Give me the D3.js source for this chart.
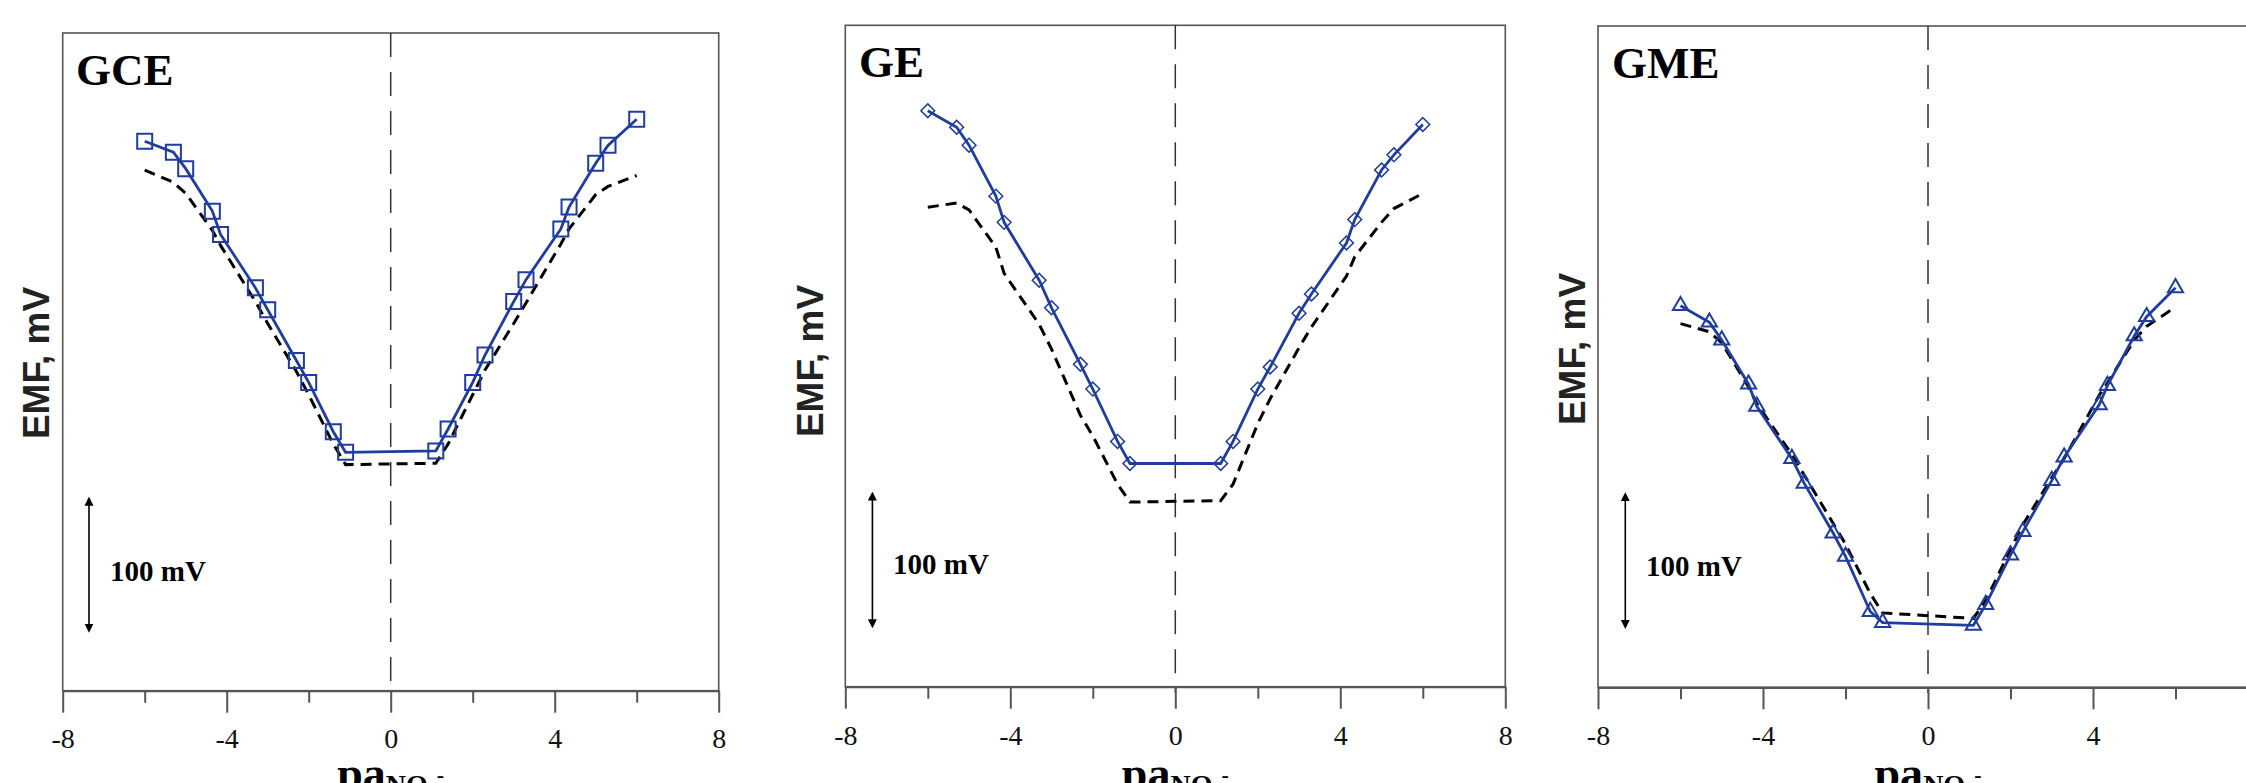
<!DOCTYPE html>
<html>
<head>
<meta charset="utf-8">
<script src="https://cdn.jsdelivr.net/npm/d3@7"></script>
<style>
  html, body { margin: 0; padding: 0; background: #fff; overflow: hidden; }
  svg { display: block; }
</style>
</head>
<body>
<svg width="2246" height="783"></svg>
<script>
// pa(NO3-) values of the measured points (same for the three electrodes)
const paValues = [-6, -5.3, -5, -4.35, -4.15, -3.3, -3, -2.3, -2, -1.4, -1.1,
                  1.1, 1.4, 2, 2.3, 3, 3.3, 4.15, 4.35, 5, 5.3, 6];

// EMF, mV (relative)
const gceMeasured = [401, 393, 381, 350, 333, 294, 278, 241, 225, 189, 174,
                     175, 191, 225, 245, 284, 300, 337, 353, 385, 398, 417];
const gceTheory   = [380, 371, 363, 336, 325, 284, 268, 233, 216, 180, 165,
                     166, 180, 216, 234, 268, 283, 326, 337, 362, 368, 376];

const geMeasured  = [418, 406, 393, 356, 337, 295, 275, 234, 216, 178, 162,
                     162, 178, 216, 232, 271, 285, 322, 339, 375, 386, 408];
const geTheory    = [348, 351, 346, 319, 300, 263, 245, 197, 182, 147, 134,
                     135, 147, 191, 209, 246, 261, 298, 312, 337, 347, 358];

const gmeMeasured = [277, 265, 252, 220, 204, 166, 148, 112, 95, 55, 47,
                     45, 60, 96, 113, 150, 167, 205, 219, 255, 269, 290];
const gmeTheory   = [264, 258, 250, 218, 206, 169, 154, 119, 104, 68, 54,
                     50, 63, 100, 118, 152, 166, 212, 221, 252, 262, 276];

const majorTicks = [-8, -4, 0, 4, 8];
const minorTicks = [-6, -2, 2, 6];
const scaleBar = [42, 142]; // 100 mV

const blue = "#1f3d9e";

const panels = [
  { name: "GCE", measured: gceMeasured, theory: gceTheory, marker: "square",
    l: 62.7, r: 718.7, t: 33, b: 690.7, title: [76, 85], yLab: [49, 363],
    barText: [110, 581], barX: 89, tickY: 748 },
  { name: "GE", measured: geMeasured, theory: geTheory, marker: "diamond",
    l: 845.3, r: 1505.3, t: 25.3, b: 686.7, title: [859, 77], yLab: [823, 361],
    barText: [893, 574], barX: 872.4, tickY: 745 },
  { name: "GME", measured: gmeMeasured, theory: gmeTheory, marker: "triangle",
    l: 1598, r: 2258, t: 26, b: 687.3, title: [1612, 78], yLab: [1585, 349],
    barText: [1646, 576], barX: 1625.3, tickY: 745 }
];

const svg = d3.select("svg");

const defs = svg.append("defs");
defs.append("marker")
  .attr("id", "head")
  .attr("viewBox", "0 0 10 10")
  .attr("refX", 5).attr("refY", 5)
  .attr("markerWidth", 9).attr("markerHeight", 10)
  .attr("markerUnits", "userSpaceOnUse")
  .attr("orient", "auto-start-reverse")
  .append("path")
  .attr("d", "M0,0 L10,5 L0,10 Z")
  .attr("fill", "#000");

panels.forEach(p => {
  const x = d3.scaleLinear().domain([-8, 8]).range([p.l, p.r]);
  const y = d3.scaleLinear().domain([0, 480]).range([p.b, p.t]);
  const g = svg.append("g");

  // frame
  g.append("rect")
    .attr("x", p.l).attr("y", p.t)
    .attr("width", p.r - p.l).attr("height", p.b - p.t)
    .attr("fill", "none")
    .attr("stroke", "#555").attr("stroke-width", 1.6);

  // x = 0 guide
  g.append("line")
    .attr("x1", x(0)).attr("x2", x(0))
    .attr("y1", p.t).attr("y2", p.b + 6)
    .attr("stroke", "#333").attr("stroke-width", 1.5)
    .attr("stroke-dasharray", "24,15");

  // x axis
  const major = g.append("g")
    .attr("transform", `translate(0,${p.b})`)
    .call(d3.axisBottom(x).tickValues(majorTicks).tickSize(22).tickSizeOuter(0)
      .tickFormat(d => String(d)));
  major.select(".domain").attr("stroke", "#555").attr("stroke-width", 2.2);
  major.selectAll(".tick line").attr("stroke", "#555").attr("stroke-width", 2);
  major.selectAll(".tick text")
    .attr("y", p.tickY - p.b).attr("dy", 0)
    .attr("fill", "#111")
    .style("font-family", "'Liberation Serif', 'Times New Roman', serif")
    .style("font-size", "28px");

  const minor = g.append("g")
    .attr("transform", `translate(0,${p.b})`)
    .call(d3.axisBottom(x).tickValues(minorTicks).tickSize(12).tickSizeOuter(0)
      .tickFormat(""));
  minor.select(".domain").remove();
  minor.selectAll(".tick line").attr("stroke", "#555").attr("stroke-width", 2);

  // theoretical curve
  const line = d3.line().x((d, i) => x(paValues[i])).y(d => y(d));
  g.append("path")
    .datum(p.theory)
    .attr("d", line)
    .attr("fill", "none")
    .attr("stroke", "#000").attr("stroke-width", 3)
    .attr("stroke-dasharray", "11,7");

  // measured curve
  g.append("path")
    .datum(p.measured)
    .attr("d", line)
    .attr("fill", "none")
    .attr("stroke", blue).attr("stroke-width", 2.8);

  let sym, rot = 0, sw = 2;
  if (p.marker === "square") sym = d3.symbol().type(d3.symbolSquare).size(225);
  else if (p.marker === "diamond") { sym = d3.symbol().type(d3.symbolSquare).size(95); rot = 45; sw = 1.5; }
  else sym = d3.symbol().type(d3.symbolTriangle).size(100);

  g.selectAll(".pt")
    .data(p.measured)
    .join("path")
    .attr("class", "pt")
    .attr("d", sym)
    .attr("transform", (d, i) => `translate(${x(paValues[i])},${y(d)}) rotate(${rot})`)
    .attr("fill", "none")
    .attr("stroke", blue).attr("stroke-width", sw);

  // panel title
  g.append("text")
    .attr("x", p.title[0]).attr("y", p.title[1])
    .style("font-family", "'Liberation Serif', 'Times New Roman', serif")
    .style("font-weight", "bold").style("font-size", "45px")
    .text(p.name);

  // y label
  g.append("text")
    .attr("transform", `translate(${p.yLab[0]},${p.yLab[1]}) rotate(-90)`)
    .attr("text-anchor", "middle")
    .style("font-family", "'Liberation Sans', Arial, sans-serif")
    .style("font-weight", "bold").style("font-size", "37px")
    .attr("fill", "#222")
    .text("EMF, mV");

  // 100 mV scale bar
  g.append("line")
    .attr("x1", p.barX).attr("x2", p.barX)
    .attr("y1", y(scaleBar[0]) - 5).attr("y2", y(scaleBar[1]) + 5)
    .attr("stroke", "#000").attr("stroke-width", 1.6)
    .attr("marker-start", "url(#head)").attr("marker-end", "url(#head)");
  g.append("text")
    .attr("x", p.barText[0]).attr("y", p.barText[1])
    .style("font-family", "'Liberation Serif', 'Times New Roman', serif")
    .style("font-weight", "bold").style("font-size", "29px")
    .text((scaleBar[1] - scaleBar[0]) + " mV");

  // x label (cut by the bottom edge, as in the original figure)
  const xl = g.append("text")
    .attr("x", x(0)).attr("y", 789)
    .attr("text-anchor", "middle")
    .style("font-family", "'Liberation Serif', 'Times New Roman', serif")
    .style("font-weight", "bold");
  xl.append("tspan").style("font-size", "46px").text("pa");
  xl.append("tspan").style("font-size", "28px").attr("dy", 5).text("NO");
  xl.append("tspan").style("font-size", "18px").attr("dy", 4).text("3");
  xl.append("tspan").style("font-size", "22px").attr("dy", -16).text("-");
});
</script>
</body>
</html>
